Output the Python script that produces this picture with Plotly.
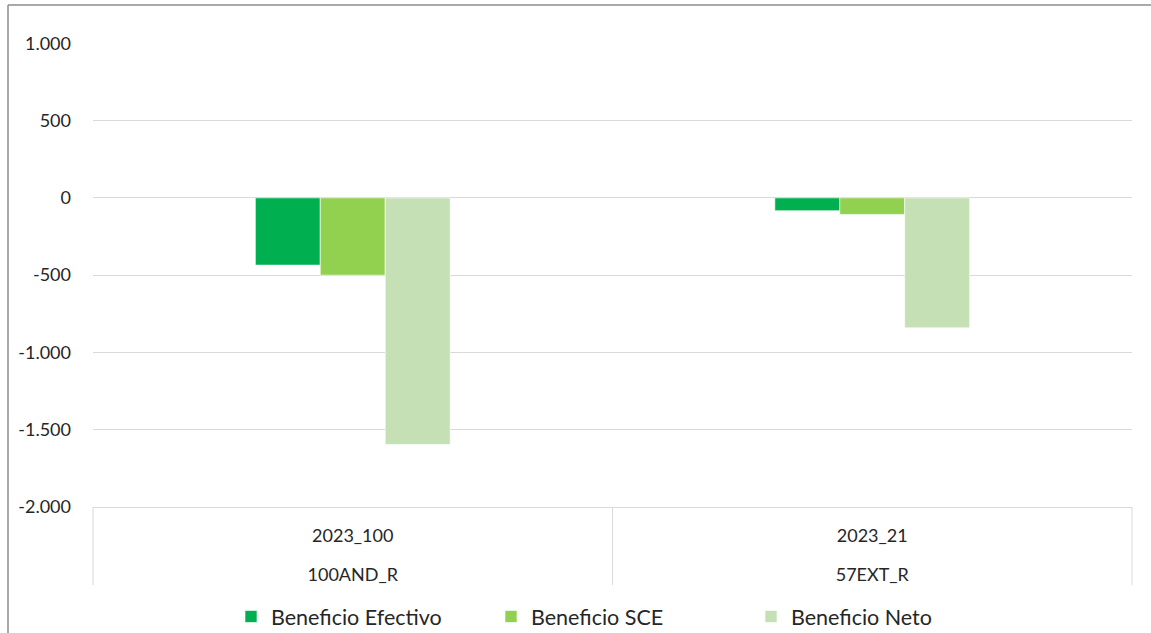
import plotly.graph_objects as go

# ---- data ----
years = ["2023_100", "2023_21"]          # upper row of category labels
codes = ["100AND_R", "57EXT_R"]          # lower row of category labels
series_names = ["Beneficio Efectivo", "Beneficio SCE", "Beneficio Neto"]
efectivo = [-435, -83]
sce = [-500, -107]
neto = [-1595, -841]
y_tickvals = [1000, 500, 0, -500, -1000, -1500, -2000]
y_ticktext = ["1.000", "500", "0", "-500", "-1.000", "-1.500", "-2.000"]

colors = ["#00B050", "#92D050", "#C5E0B4"]
FONT = "Lato, Carlito, Calibri, 'Open Sans', sans-serif"
TXT = "#262626"

W, H = 1151, 633
L, R, T, B = 93, 19, 43, 126
PW, PH = W - L - R, H - T - B
BOT = T + PH  # pixel y of plot bottom


def py(pix):
    """pixel y -> paper y"""
    return (BOT - pix) / PH


def px(pix):
    """pixel x -> paper x"""
    return (pix - L) / PW


fig = go.Figure()
for name, vals, col in zip(series_names, [efectivo, sce, neto], colors):
    fig.add_trace(go.Bar(
        x=years, y=vals, name=name,
        marker=dict(color=col, line=dict(color="rgba(255,255,255,0.6)", width=1)),
    ))
# second category row (lower labels)
fig.add_trace(go.Scatter(x=codes, y=[None, None], xaxis="x2", mode="markers",
                         showlegend=False, hoverinfo="skip"))

fig.update_layout(
    width=W, height=H + 16,
    margin=dict(l=L, r=R, t=T, b=B),
    paper_bgcolor="white", plot_bgcolor="white",
    barmode="group", bargap=0.625, bargroupgap=0,
    font=dict(family=FONT, size=18, color=TXT),
    showlegend=True,
    legend=dict(orientation="h", x=px(231), xanchor="left",
                y=py(596), yanchor="top",
                entrywidth=215, entrywidthmode="pixels",
                font=dict(size=21.5, color=TXT), itemclick=False),
    xaxis=dict(type="category", categoryarray=years, range=[-0.5, 1.5],
               showgrid=False, showline=True, linecolor="#D9D9D9", linewidth=1,
               ticks="", ticklabelstandoff=12, tickfont=dict(size=18, color=TXT)),
    xaxis2=dict(type="category", categoryarray=codes, range=[-0.5, 1.5],
                overlaying="x", anchor="y", side="bottom",
                showgrid=False, showline=False, ticks="",
                ticklabelstandoff=55, tickfont=dict(size=18, color=TXT)),
    yaxis=dict(range=[-2000, 1002], tickvals=y_tickvals, ticktext=y_ticktext,
               showgrid=True, gridcolor="#D9D9D9", gridwidth=1,
               zeroline=False, showline=False, ticklabelstandoff=21,
               tickfont=dict(size=18, color=TXT)),
)

# category dividers
for xp in [0, 0.5, 1]:
    fig.add_shape(type="line", xref="paper", yref="paper",
                  x0=xp, x1=xp, y0=0, y1=py(585),
                  line=dict(color="#D9D9D9", width=1))
# outer chart border (left and top edges visible in the frame)
fig.add_shape(type="line", xref="paper", yref="paper",
              x0=px(8), x1=px(8), y0=py(5), y1=py(H),
              line=dict(color="#8C8C8C", width=1.5))
fig.add_shape(type="line", xref="paper", yref="paper",
              x0=px(8), x1=px(W), y0=py(5), y1=py(5),
              line=dict(color="#8C8C8C", width=1.5))

fig.write_html("out.html", config={"displayModeBar": False},
               post_script="document.body.style.margin='0';")
